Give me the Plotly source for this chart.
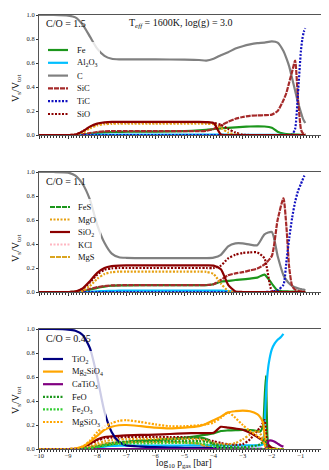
import plotly.graph_objects as go

# log10 pressure grids (bar)
X_TOP = [-10, -9.5, -9, -8.75, -8.5, -8.25, -8, -7.75, -7.5, -7.25, -7, -6, -5, -4.5, -4.25,
         -4, -3.75, -3.5, -3.25, -3, -2.75, -2.5, -2.25, -2, -1.8, -1.6, -1.5, -1.4, -1.3,
         -1.2, -1.1, -1.0, -0.95, -0.9, -0.85]
X_BOT = [-10, -9.5, -9, -8.75, -8.5, -8.25, -8, -7.75, -7.5, -7.25, -7, -6.5, -6, -5.5, -5,
         -4.5, -4.25, -4, -3.75, -3.5, -3.25, -3, -2.75, -2.5, -2.4, -2.3, -2.25, -2.2, -2.15,
         -2.1, -2.0, -1.9, -1.8, -1.7, -1.6]

# panel 1, C/O = 1.5
P1_FE = [0, 0, 0, 0, 0.003, 0.01, 0.018, 0.022, 0.025, 0.026, 0.027, 0.028, 0.032, 0.038, 0.043,
         0.05, 0.056, 0.06, 0.064, 0.068, 0.071, 0.072, 0.071, 0.06, 0.028, 0.012, 0.008, 0.006,
         0.005, 0.004, 0.003, 0.002, 0.001, 0.001, 0]
P1_AL2O3 = [0, 0, 0, 0, 0.001, 0.002, 0.003, 0.004, 0.004, 0.004, 0.004, 0.004, 0.004, 0.004, 0.004,
            0.004, 0.003, 0.003, 0.002, 0.002, 0.002, 0.002, 0.001, 0.001, 0.001, 0.001, 0, 0,
            0, 0, 0, 0, 0, 0, 0]
P1_C = [1.0, 1.0, 0.995, 0.98, 0.92, 0.82, 0.72, 0.66, 0.635, 0.63, 0.63, 0.63, 0.628, 0.625, 0.62,
        0.635, 0.665, 0.69, 0.72, 0.74, 0.755, 0.765, 0.77, 0.78, 0.77, 0.7, 0.64, 0.57, 0.47,
        0.37, 0.27, 0.19, 0.15, 0.12, 0.1]
P1_SIC = [0, 0, 0, 0, 0.005, 0.015, 0.025, 0.03, 0.032, 0.032, 0.032, 0.032, 0.032, 0.032, 0.035,
          0.05, 0.08, 0.11, 0.135, 0.15, 0.16, 0.163, 0.165, 0.17, 0.2, 0.29, 0.35, 0.44, 0.53,
          0.62, 0.3, 0.05, 0.02, 0.01, 0.005]
P1_TIC = [0, 0, 0, 0, 0, 0, 0, 0, 0, 0, 0, 0, 0, 0, 0,
          0, 0, 0, 0, 0, 0, 0, 0, 0, 0, 0, 0, 0, 0.005,
          0.05, 0.35, 0.7, 0.8, 0.86, 0.89]
P1_SIO = [0, 0, 0, 0.003, 0.03, 0.065, 0.09, 0.1, 0.104, 0.105, 0.105, 0.105, 0.105, 0.105, 0.103,
          0.1, 0.085, 0.05, 0.02, 0.003, 0, 0, 0, 0, 0, 0, 0, 0, 0,
          0, 0, 0, 0, 0, 0]
P1_MGO = [0, 0, 0, 0.002, 0.02, 0.055, 0.08, 0.09, 0.093, 0.095, 0.095, 0.095, 0.095, 0.095, 0.093,
          0.09, 0.06, 0.02, 0.005, 0, 0, 0, 0, 0, 0, 0, 0, 0, 0,
          0, 0, 0, 0, 0, 0]
P1_SIO2 = [0, 0, 0, 0.003, 0.03, 0.07, 0.095, 0.105, 0.11, 0.11, 0.11, 0.11, 0.11, 0.11, 0.108,
           0.1, 0.005, 0, 0, 0, 0, 0, 0, 0, 0, 0, 0, 0, 0,
           0, 0, 0, 0, 0, 0]

# panel 2, C/O = 1.1
P2_FE = [0, 0, 0, 0.001, 0.005, 0.02, 0.035, 0.045, 0.052, 0.055, 0.056, 0.057, 0.057, 0.057, 0.058,
         0.065, 0.085, 0.092, 0.1, 0.105, 0.112, 0.12, 0.145, 0.07, 0.012, 0.006, 0.005, 0.004,
         0.003, 0.003, 0.002, 0.002, 0.002, 0.001, 0.001]
P2_AL2O3 = [0, 0, 0, 0, 0.001, 0.002, 0.005, 0.008, 0.01, 0.011, 0.011, 0.011, 0.011, 0.011, 0.011,
            0.011, 0.011, 0.008, 0.002, 0, 0, 0, 0, 0, 0, 0, 0, 0, 0,
            0, 0, 0, 0, 0, 0]
P2_C = [1.0, 1.0, 0.995, 0.97, 0.9, 0.77, 0.56, 0.41, 0.32, 0.29, 0.285, 0.283, 0.283, 0.283, 0.283,
        0.287, 0.31, 0.38, 0.405, 0.405, 0.395, 0.39, 0.48, 0.5, 0.3, 0.14, 0.1, 0.07, 0.05,
        0.04, 0.03, 0.025, 0.02, 0.02, 0.015]
P2_SIC = [0, 0, 0, 0.002, 0.01, 0.025, 0.04, 0.05, 0.055, 0.056, 0.057, 0.057, 0.057, 0.057, 0.058,
          0.065, 0.1, 0.14, 0.155, 0.165, 0.18, 0.195, 0.23, 0.3, 0.6, 0.78, 0.55, 0.2, 0.05,
          0.02, 0.01, 0.005, 0.003, 0.002, 0.001]
P2_TIC = [0, 0, 0, 0, 0, 0, 0, 0, 0, 0, 0, 0, 0, 0, 0,
          0, 0, 0, 0, 0, 0, 0, 0, 0.003, 0.015, 0.06, 0.25, 0.45, 0.62,
          0.75, 0.84, 0.9, 0.93, 0.96, 0.98]
P2_SIO = [0, 0, 0, 0.003, 0.025, 0.08, 0.145, 0.185, 0.197, 0.2, 0.2, 0.2, 0.2, 0.2, 0.2,
          0.2, 0.22, 0.28, 0.31, 0.325, 0.33, 0.33, 0.28, 0.01, 0, 0, 0, 0, 0,
          0, 0, 0, 0, 0, 0]
P2_MGO = [0, 0, 0, 0.001, 0.01, 0.05, 0.11, 0.15, 0.165, 0.17, 0.17, 0.17, 0.17, 0.17, 0.168,
          0.15, 0.07, 0.01, 0, 0, 0, 0, 0, 0, 0, 0, 0, 0, 0,
          0, 0, 0, 0, 0, 0]
P2_SIO2 = [0, 0, 0, 0.003, 0.03, 0.09, 0.16, 0.2, 0.215, 0.22, 0.222, 0.222, 0.222, 0.222, 0.222,
           0.22, 0.19, 0.06, 0.005, 0, 0, 0, 0, 0, 0, 0, 0, 0, 0,
           0, 0, 0, 0, 0, 0]

# panel 3, C/O = 0.45
P3_FE = [0, 0, 0, 0, 0.003, 0.01, 0.02, 0.03, 0.04, 0.05, 0.055, 0.065, 0.075, 0.085, 0.095,
         0.11, 0.12, 0.13, 0.15, 0.155, 0.158, 0.16, 0.158, 0.15, 0.145, 0.2, 0.4, 0.61, 0.1,
         0.02, 0.005, 0.002, 0, 0, 0]
P3_AL2O3 = [0, 0, 0, 0, 0, 0.003, 0.01, 0.02, 0.025, 0.028, 0.028, 0.028, 0.028, 0.028, 0.029,
            0.03, 0.03, 0.03, 0.03, 0.03, 0.03, 0.03, 0.03, 0.03, 0.03, 0.04, 0.2, 0.45, 0.62,
            0.72, 0.83, 0.88, 0.91, 0.93, 0.96]
P3_SIO = [0, 0, 0, 0.002, 0.01, 0.04, 0.07, 0.09, 0.095, 0.097, 0.1, 0.1, 0.1, 0.1, 0.098,
          0.09, 0.08, 0.065, 0.05, 0.04, 0.035, 0.04, 0.08, 0.15, 0.18, 0.22, 0.24, 0.15, 0.02,
          0, 0, 0, 0, 0, 0]
P3_FES = [0, 0, 0, 0, 0.003, 0.01, 0.02, 0.03, 0.04, 0.05, 0.06, 0.07, 0.075, 0.08, 0.088,
          0.095, 0.085, 0.04, 0.01, 0.005, 0.003, 0, 0, 0, 0, 0, 0, 0, 0,
          0, 0, 0, 0, 0, 0]
P3_MGO = [0, 0, 0, 0, 0.005, 0.02, 0.045, 0.065, 0.075, 0.08, 0.082, 0.085, 0.085, 0.085, 0.085,
          0.08, 0.07, 0.05, 0.04, 0.04, 0.05, 0.08, 0.12, 0.15, 0.13, 0.08, 0.04, 0.01, 0,
          0, 0, 0, 0, 0, 0]
P3_SIO2 = [0, 0, 0, 0.002, 0.015, 0.045, 0.08, 0.1, 0.105, 0.11, 0.113, 0.117, 0.12, 0.125, 0.13,
           0.133, 0.133, 0.135, 0.185, 0.178, 0.17, 0.16, 0.135, 0.1, 0.085, 0.07, 0.06, 0.05, 0.04,
           0.03, 0.01, 0.003, 0, 0, 0]
P3_MGS = [0, 0, 0, 0, 0.003, 0.015, 0.03, 0.045, 0.052, 0.055, 0.057, 0.058, 0.058, 0.058, 0.055,
          0.045, 0.02, 0.005, 0, 0, 0, 0, 0, 0, 0, 0, 0, 0, 0,
          0, 0, 0, 0, 0, 0]
P3_TIO2 = [1.0, 1.0, 0.995, 0.985, 0.95, 0.84, 0.6, 0.31, 0.14, 0.06, 0.03, 0.02, 0.015, 0.012, 0.01,
           0.01, 0.01, 0.008, 0.006, 0.005, 0.004, 0.003, 0.002, 0.002, 0.001, 0, 0, 0, 0,
           0, 0, 0, 0, 0, 0]
P3_MG2SIO4 = [0, 0, 0, 0.003, 0.02, 0.06, 0.11, 0.16, 0.185, 0.198, 0.2, 0.19, 0.178, 0.172, 0.178,
              0.19, 0.21, 0.24, 0.27, 0.305, 0.315, 0.32, 0.315, 0.29, 0.265, 0.22, 0.12, 0.01, 0.002,
              0, 0, 0, 0, 0, 0]
P3_CATIO3 = [0, 0, 0, 0, 0, 0, 0, 0, 0, 0, 0, 0, 0, 0, 0,
             0, 0, 0, 0, 0, 0, 0, 0, 0, 0, 0, 0, 0.005, 0.04,
             0.07, 0.07, 0.06, 0.045, 0.03, 0.02]
P3_FEO = [0, 0, 0, 0, 0.002, 0.008, 0.02, 0.035, 0.05, 0.058, 0.062, 0.065, 0.067, 0.068, 0.068,
          0.066, 0.06, 0.045, 0.03, 0.02, 0.015, 0.015, 0.02, 0.03, 0.04, 0.06, 0.08, 0.05, 0.01,
          0, 0, 0, 0, 0, 0]
P3_FE2O3 = [0, 0, 0, 0, 0.002, 0.006, 0.015, 0.028, 0.038, 0.042, 0.045, 0.047, 0.048, 0.05, 0.05,
            0.048, 0.04, 0.02, 0.008, 0.003, 0.001, 0, 0, 0, 0, 0, 0, 0, 0,
            0, 0, 0, 0, 0, 0]
P3_MGSIO3 = [0, 0, 0, 0.003, 0.02, 0.07, 0.14, 0.19, 0.215, 0.235, 0.24, 0.225, 0.205, 0.19, 0.19,
             0.198, 0.205, 0.22, 0.26, 0.305, 0.26, 0.2, 0.15, 0.11, 0.09, 0.065, 0.04, 0.01, 0,
             0, 0, 0, 0, 0, 0]

CO_LABELS = ["C/O = 1.5", "C/O = 1.1", "C/O = 0.45"]
TITLE = "T<sub><i>eff</i></sub> = 1600K, log(g) = 3.0"

# species -> (legend label, colour, dash)
STYLE = {
    "Fe": ("Fe", "#1c961c", "solid"),
    "Al2O3": ("Al<sub>2</sub>O<sub>3</sub>", "#00bfff", "solid"),
    "C": ("C", "#808080", "solid"),
    "SiC": ("SiC", "#a52a2a", "5px,1px"),
    "TiC": ("TiC", "#1010c0", "2px,1.5px"),
    "SiO": ("SiO", "#8b0000", "2px,1.5px"),
    "FeS": ("FeS", "#1c961c", "5px,1px"),
    "MgO": ("MgO", "#e6a010", "2px,1.5px"),
    "SiO2": ("SiO<sub>2</sub>", "#8b0000", "solid"),
    "KCl": ("KCl", "#ffb6c1", "2px,1.5px"),
    "MgS": ("MgS", "#daa520", "5px,1px"),
    "TiO2": ("TiO<sub>2</sub>", "#000080", "solid"),
    "Mg2SiO4": ("Mg<sub>2</sub>SiO<sub>4</sub>", "#ffa500", "solid"),
    "CaTiO3": ("CaTiO<sub>3</sub>", "#800080", "solid"),
    "FeO": ("FeO", "#1c961c", "2px,1.5px"),
    "Fe2O3": ("Fe<sub>2</sub>O<sub>3</sub>", "#32cd32", "2px,1.5px"),
    "MgSiO3": ("MgSiO<sub>3</sub>", "#ffa500", "2px,1.5px"),
}

LEGENDS = [
    ["Fe", "Al2O3", "C", "SiC", "TiC", "SiO"],
    ["FeS", "MgO", "SiO2", "KCl", "MgS"],
    ["TiO2", "Mg2SiO4", "CaTiO3", "FeO", "Fe2O3", "MgSiO3"],
]

PANELS = [
    (X_TOP, [("Fe", P1_FE), ("Al2O3", P1_AL2O3), ("C", P1_C), ("SiC", P1_SIC), ("TiC", P1_TIC),
             ("SiO", P1_SIO), ("MgO", P1_MGO), ("SiO2", P1_SIO2)]),
    (X_TOP, [("Fe", P2_FE), ("Al2O3", P2_AL2O3), ("C", P2_C), ("SiC", P2_SIC), ("TiC", P2_TIC),
             ("SiO", P2_SIO), ("MgO", P2_MGO), ("SiO2", P2_SIO2)]),
    (X_BOT, [("Fe", P3_FE), ("Al2O3", P3_AL2O3), ("SiO", P3_SIO), ("FeS", P3_FES), ("MgO", P3_MGO),
             ("SiO2", P3_SIO2), ("MgS", P3_MGS), ("TiO2", P3_TIO2), ("Mg2SiO4", P3_MG2SIO4),
             ("CaTiO3", P3_CATIO3), ("FeO", P3_FEO), ("Fe2O3", P3_FE2O3), ("MgSiO3", P3_MGSIO3)]),
]

W, H = 329, 470
L, R, T, B = 31, 7, 7, 29
PW, PH = W - L - R, H - T - B
# panel top/bottom in pixels
PANEL_PX = [(7, 127), (164, 284), (321, 441)]
FONT = "Liberation Serif"


def px2x(px):
    return (px - L) / PW


def px2y(py):
    return (H - B - py) / PH


fig = go.Figure()
for i, (xs, series) in enumerate(PANELS):
    sfx = "" if i == 0 else str(i + 1)
    for key, ys in series:
        if len(ys) != len(xs):
            raise ValueError(f"panel {i + 1} {key}: {len(ys)} values")
        _, color, dash = STYLE[key]
        fig.add_trace(go.Scatter(
            x=xs, y=ys, mode="lines", showlegend=False,
            line=dict(color=color, width=2.2, dash=dash, shape="spline", smoothing=0.6),
            xaxis="x" + sfx, yaxis="y" + sfx,
        ))

layout = dict(
    width=W, height=H, margin=dict(l=L, r=R, t=T, b=B, autoexpand=False),
    paper_bgcolor="white", plot_bgcolor="white",
    font=dict(family=FONT, color="#111"),
    showlegend=False,
)
for i, (top, bot) in enumerate(PANEL_PX):
    sfx = "" if i == 0 else str(i + 1)
    layout["xaxis" + sfx] = dict(
        domain=[0, 1], range=[-10, 0], anchor="y" + sfx, tick0=-10, dtick=1,
        ticks="outside", ticklen=2.5, tickwidth=0.8, tickcolor="#333",
        minor=dict(dtick=0.1, ticks="outside", ticklen=1.5, tickwidth=0.5, tickcolor="#333"),
        showline=True, mirror=True, linecolor="#555", linewidth=1,
        showgrid=False, zeroline=False, showticklabels=(i == 2), automargin=False,
        ticklabelstandoff=-2,
        tickfont=dict(size=6.5, family=FONT, color="#222"),
    )
    layout["yaxis" + sfx] = dict(
        domain=[px2y(bot), px2y(top)], range=[0, 1], anchor="x" + sfx, dtick=0.2,
        tickformat=".1f", ticks="outside", ticklen=2, tickwidth=0.8, tickcolor="#333",
        showline=True, mirror=True, linecolor="#555", linewidth=1,
        showgrid=False, zeroline=False, automargin=False,
        tickfont=dict(size=6.5, family=FONT, color="#222"),
    )
fig.update_layout(**layout)

annotations = []
shapes = []

# panel labels and y titles
CO_PY = [15, 173, 330]
YT_PY = [81, 241, 393]
for i in range(3):
    annotations.append(dict(text=CO_LABELS[i], x=px2x(36), y=px2y(CO_PY[i]), xref="paper",
                            yref="paper", xanchor="left", yanchor="middle", showarrow=False,
                            font=dict(size=10)))
    annotations.append(dict(text="V<sub>s</sub>/V<sub>tot</sub>", x=px2x(8), y=px2y(YT_PY[i]),
                            xref="paper", yref="paper", textangle=-90, showarrow=False,
                            xanchor="center", yanchor="middle", font=dict(size=10)))
annotations.append(dict(text=TITLE, x=px2x(173), y=px2y(15), xref="paper", yref="paper",
                        showarrow=False, xanchor="center", yanchor="middle", font=dict(size=10)))
annotations.append(dict(text="log<sub>10</sub> p<sub>gas</sub> [bar]", x=px2x(176), y=px2y(456),
                        xref="paper", yref="paper", showarrow=False, xanchor="center",
                        yanchor="middle", font=dict(size=9.5)))

# hand-made legends: (box x0, x1, y0, y1, first row y, row step, line x0, x1, text x)
LEG_GEOM = [
    (34, 92, 34, 112, 42, 12.8, 40, 60, 67),
    (36, 93, 191, 256, 199, 12.5, 42, 62, 68),
    (32, 98, 343, 421, 351, 12.6, 35, 55, 62),
]
for keys, (bx0, bx1, by0, by1, ry, step, lx0, lx1, tx) in zip(LEGENDS, LEG_GEOM):
    shapes.append(dict(type="rect", xref="paper", yref="paper", layer="above",
                       x0=px2x(bx0), x1=px2x(bx1), y0=px2y(by1), y1=px2y(by0),
                       fillcolor="rgba(255,255,255,0.8)", line=dict(width=0)))
    for j, key in enumerate(keys):
        label, color, dash = STYLE[key]
        yy = ry + j * step
        shapes.append(dict(type="line", xref="paper", yref="paper", layer="above",
                           x0=px2x(lx0), x1=px2x(lx1), y0=px2y(yy), y1=px2y(yy),
                           line=dict(color=color, width=2.2, dash=dash)))
        annotations.append(dict(text=label, x=px2x(tx), y=px2y(yy), xref="paper", yref="paper",
                                xanchor="left", yanchor="middle", showarrow=False,
                                font=dict(size=8.5)))

fig.update_layout(annotations=annotations, shapes=shapes)
fig.write_html("out.html")
